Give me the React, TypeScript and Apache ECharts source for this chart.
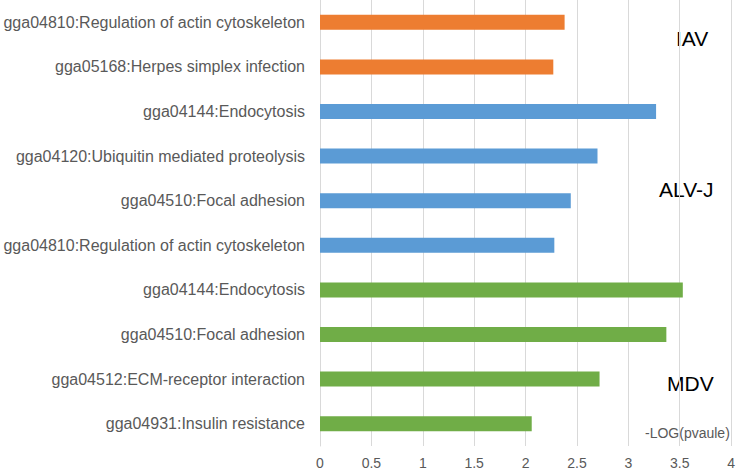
import React, { useEffect, useRef } from "react";
import * as echarts from "echarts";

const categories = [
  "gga04810:Regulation of actin cytoskeleton",
  "gga05168:Herpes simplex infection",
  "gga04144:Endocytosis",
  "gga04120:Ubiquitin mediated proteolysis",
  "gga04510:Focal adhesion",
  "gga04810:Regulation of actin cytoskeleton",
  "gga04144:Endocytosis",
  "gga04510:Focal adhesion",
  "gga04512:ECM-receptor interaction",
  "gga04931:Insulin resistance",
];
const values = [2.38, 2.27, 3.27, 2.7, 2.44, 2.28, 3.53, 3.37, 2.72, 2.06];
const groups = ["IAV", "IAV", "ALV-J", "ALV-J", "ALV-J", "ALV-J", "MDV", "MDV", "MDV", "MDV"];
const groupColors: Record<string, string> = { IAV: "#ED7D31", "ALV-J": "#5B9BD5", MDV: "#70AD47" };
const xTicks = [0, 0.5, 1, 1.5, 2, 2.5, 3, 3.5, 4];
const axisTitle = "-LOG(pvaule)";

export default function App() {
  const ref = useRef<HTMLDivElement>(null);
  useEffect(() => {
    if (!ref.current) return;
    const chart = echarts.init(ref.current, undefined, { renderer: "svg" });
    const font = "'Liberation Sans', Arial, sans-serif";
    chart.setOption({
      animation: false,
      backgroundColor: "#ffffff",
      textStyle: { fontFamily: font },
      grid: { left: 320, right: 4, top: 0, bottom: 25, containLabel: false },
      xAxis: {
        type: "value",
        min: xTicks[0],
        max: xTicks[xTicks.length - 1],
        interval: 0.5,
        axisLine: { show: false },
        axisTick: { show: false },
        axisLabel: { color: "#595959", fontSize: 14, fontFamily: font, margin: 10 },
        splitLine: { show: true, lineStyle: { color: "#d9d9d9", width: 1 } },
      },
      yAxis: {
        type: "category",
        inverse: true,
        data: categories,
        axisLine: { show: true, lineStyle: { color: "#d9d9d9", width: 1 } },
        axisTick: { show: false },
        axisLabel: { color: "#595959", fontSize: 16, fontFamily: font, margin: 15 },
      },
      series: [
        {
          type: "bar",
          barWidth: 15,
          data: values.map((v, i) => ({
            value: v,
            itemStyle: { color: groupColors[groups[i]] },
          })),
        },
      ],
      graphic: [
        { type: "text", left: 676, top: 28, style: { text: "IAV", fontSize: 21, fill: "#000", fontFamily: font } },
        { type: "text", left: 659, top: 179, style: { text: "ALV-J", fontSize: 21, fill: "#000", fontFamily: font } },
        { type: "text", left: 667, top: 373, style: { text: "MDV", fontSize: 21, fill: "#000", fontFamily: font } },
        { type: "text", left: 645, top: 426, style: { text: axisTitle, fontSize: 14, fill: "#595959", fontFamily: font } },
      ],
    });
    return () => chart.dispose();
  }, []);
  return (
    <div
      ref={ref}
      style={{ position: "fixed", left: 0, top: 0, width: 738, height: 471 }}
    />
  );
}
